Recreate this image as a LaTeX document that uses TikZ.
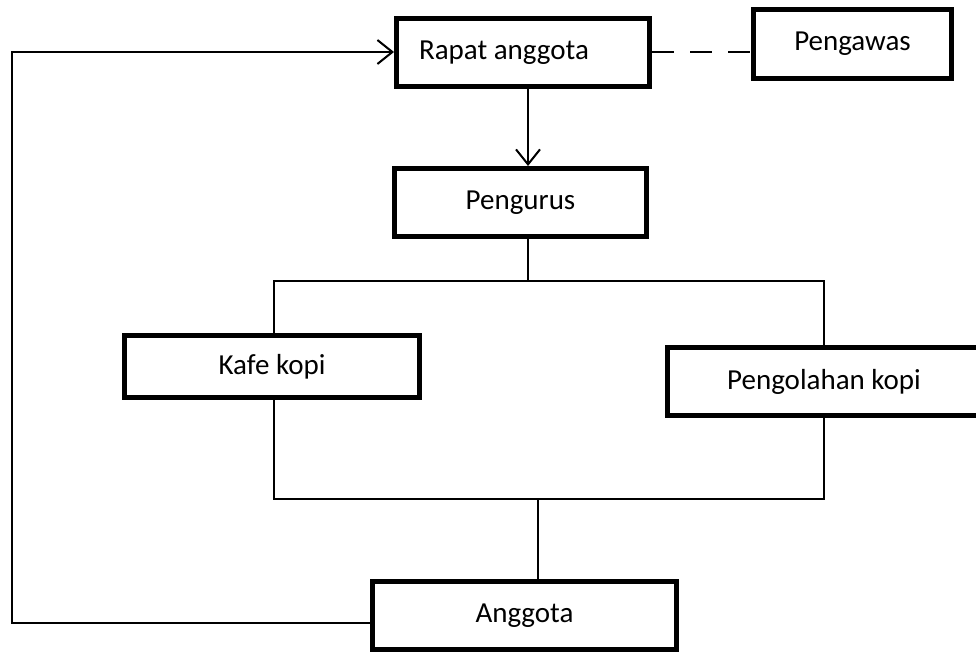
\documentclass[tikz,border=0pt]{standalone}
\usepackage{fontspec}
\setmainfont{Carlito}
\usetikzlibrary{arrows.meta}
\tikzset{
  box/.style={draw, line width=5pt, rectangle, inner sep=0pt, fill=white,
    font=\fontsize{29}{35}\selectfont},
  conn/.style={line width=2pt},
  openarrow/.style={-{Straight Barb[length=15pt,width=24pt,line width=2pt]}},
}
\begin{document}
\begin{tikzpicture}[x=1pt,y=-1pt]
\useasboundingbox (0,0) rectangle (976,653);
\clip (0,0) rectangle (976,653);
% boxes
\node[box, minimum width=253pt, minimum height=68pt] (rapat) at (523,52.5) {\hspace*{-38pt}Rapat anggota};
\node[box, minimum width=198pt, minimum height=69pt] (pengawas) at (852.5,44) {Pengawas};
\node[box, minimum width=252pt, minimum height=68pt] (pengurus) at (520.5,202.5) {Pengurus};
\node[box, minimum width=295pt, minimum height=62pt] (kafe) at (272,366.5) {Kafe kopi};
\node[box, minimum width=313pt, minimum height=68pt] (olah) at (824,381.5) {Pengolahan kopi};
\node[box, minimum width=304pt, minimum height=68pt] (anggota) at (524.5,615.5) {Anggota};
% helper coordinates
\coordinate (xa) at (528,0);
\coordinate (xk) at (274,0);
\coordinate (xo) at (824,0);
\coordinate (xm) at (538,0);
\coordinate (top) at (0,281);
\coordinate (bot) at (0,499);
\coordinate (L1) at (12,623);
\coordinate (L2) at (12,52);
% connectors
\draw[conn, openarrow] (rapat.south -| xa) -- (pengurus.north -| xa);
\draw[conn, dash pattern=on 22pt off 16pt] (rapat.east |- L2) -- (pengawas.west |- L2);
\draw[conn, openarrow] (anggota.west |- L1) -- (L1) -- (L2) -- (rapat.west |- L2);
\draw[conn] (pengurus.south -| xa) -- (xa |- top);
\draw[conn] (kafe.north -| xk) -- (xk |- top) -- (xo |- top) -- (olah.north -| xo);
\draw[conn] (kafe.south -| xk) -- (xk |- bot) -- (xo |- bot) -- (olah.south -| xo);
\draw[conn] (xm |- bot) -- (anggota.north -| xm);
\end{tikzpicture}
\end{document}
